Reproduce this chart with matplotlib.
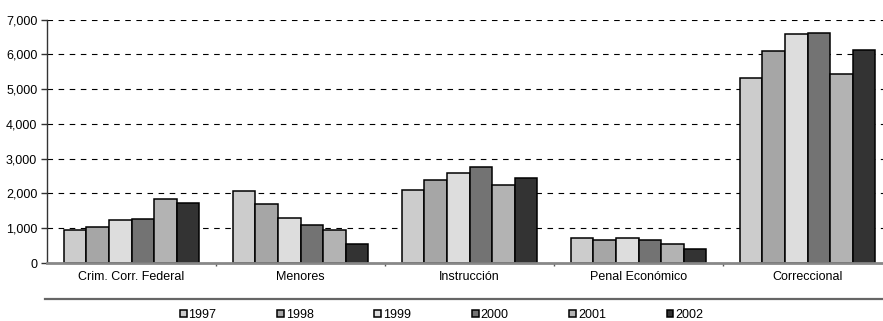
import matplotlib.pyplot as plt
import numpy as np
from matplotlib.lines import Line2D

plt.rcParams['font.family'] = ['Liberation Sans Narrow', 'Liberation Sans', 'DejaVu Sans']

categories = ['Crim. Corr. Federal', 'Menores', 'Instrucción', 'Penal Económico', 'Correccional']
years = ['1997', '1998', '1999', '2000', '2001', '2002']
v1997 = [958, 2080, 2109, 710, 5331]
v1998 = [1045, 1688, 2379, 670, 6099]
v1999 = [1228, 1295, 2589, 710, 6579]
v2000 = [1257, 1102, 2771, 662, 6608]
v2001 = [1841, 949, 2235, 538, 5428]
v2002 = [1726, 555, 2436, 411, 6118]
series = [v1997, v1998, v1999, v2000, v2001, v2002]
colors = ['#cccccc', '#a6a6a6', '#dddddd', '#737373', '#b3b3b3', '#333333']

fig = plt.figure(figsize=(8.83, 3.21), dpi=100)
ax = fig.add_axes([47 / 883, 58 / 321, 845 / 883, 243.3 / 321])

x = np.arange(len(categories))
w = 0.8 / len(years)
for i, (vals, c) in enumerate(zip(series, colors)):
    ax.bar(x - 0.4 + w * (i + 0.5), vals, w, color=c, edgecolor='black',
           linewidth=1.1, label=years[i], zorder=3)

ax.set_xlim(-0.5, len(categories) - 0.5)
ax.set_ylim(0, 7000)
ax.set_yticks(range(0, 7001, 1000))
ax.set_yticklabels([f'{v:,}' for v in range(0, 7001, 1000)], fontsize=9)
ax.yaxis.grid(True, linestyle=(0, (5, 5)), color='black', linewidth=0.8, zorder=0)

ax.set_xticks(x)
ax.set_xticklabels(categories, fontsize=9)
ax.tick_params(axis='x', length=0, pad=6)
ax.set_xticks(np.arange(0.5, len(categories) - 0.5), minor=True)
ax.tick_params(axis='x', which='minor', length=2, color='#555555', width=1)
ax.tick_params(axis='y', length=4, width=1, color='#333333', pad=3)

for s in ['top', 'right']:
    ax.spines[s].set_visible(False)
ax.spines['left'].set_color('#333333')
ax.spines['left'].set_linewidth(1)
ax.spines['bottom'].set_color('#888888')
ax.spines['bottom'].set_linewidth(2)
ax.spines['bottom'].set_zorder(4)

# rule above the legend
fig.add_artist(Line2D([45 / 883, 1], [1 - 298.7 / 321] * 2, transform=fig.transFigure,
                      color='#666666', linewidth=1.6))

fig.legend(loc='center', bbox_to_anchor=(441.5 / 883, 1 - 315 / 321), ncol=6,
           frameon=False, fontsize=9, handlelength=0.55, handleheight=0.55,
           handletextpad=0.15, columnspacing=4.85, borderaxespad=0)

fig.savefig('out.png', dpi=100)
